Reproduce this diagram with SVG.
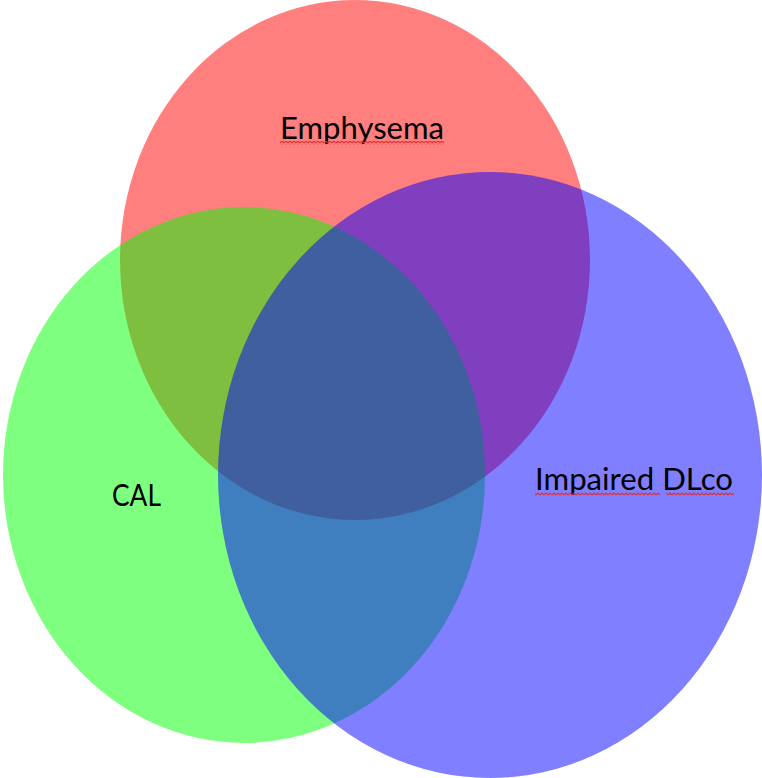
<svg xmlns="http://www.w3.org/2000/svg" width="762" height="778" viewBox="0 0 762 778">
<style>
.set{fill-opacity:0.5;stroke:none}
.lbl{font-family:Lato,"Liberation Sans",Arial,sans-serif;font-size:31px;fill:#000}
</style>
<defs>
<pattern id="wave" x="0" y="0" width="4" height="4" patternUnits="userSpaceOnUse">
<path d="M0,3 L2,1 L4,3" fill="none" stroke="#e03030" stroke-width="1.1"/>
</pattern>
</defs>
<rect width="762" height="778" fill="#fff"/>
<g id="emphysema">
<ellipse class="set" cx="355" cy="260" rx="235" ry="260" fill="#ff0000"/>
</g>
<g id="cal">
<ellipse class="set" cx="244" cy="475" rx="241" ry="268" fill="#00ff00"/>
</g>
<g id="dlco">
<ellipse class="set" cx="490" cy="475" rx="272" ry="303" fill="#0000ff"/>
</g>
<g id="labels">
<text class="lbl" x="280" y="139" textLength="164" lengthAdjust="spacingAndGlyphs">Emphysema</text>
<rect x="280" y="141" width="164" height="4" fill="url(#wave)"/>
<text class="lbl" x="112" y="506" textLength="49" lengthAdjust="spacingAndGlyphs">CAL</text>
<text class="lbl" x="535" y="490" textLength="198" lengthAdjust="spacingAndGlyphs">Impaired DLco</text>
<rect x="535" y="492" width="125" height="4" fill="url(#wave)"/>
<rect x="666" y="492" width="68" height="4" fill="url(#wave)"/>
</g>
</svg>
